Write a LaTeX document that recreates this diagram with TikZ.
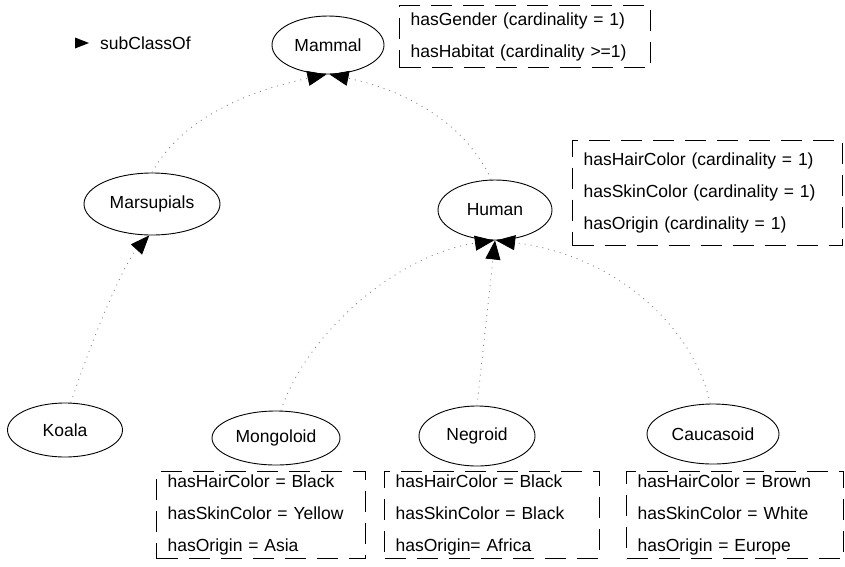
\documentclass[tikz,border=0pt]{standalone}
\usepackage{fontspec}
\setmainfont{Liberation Sans}
\usetikzlibrary{arrows.meta,shapes.geometric}
\tikzset{
  cls/.style={draw, ellipse, line width=0.9pt, inner sep=0pt},
  propbox/.style={draw, dash pattern=on 21pt off 11pt, line width=1.2pt, anchor=north west,
    inner xsep=11pt, inner ysep=0pt, align=left},
  sub/.style={draw=black!50, line width=0.8pt, dash pattern=on 1pt off 5pt,
    -{Triangle[length=19pt,width=15pt,color=black]}},
}
\begin{document}
\begin{tikzpicture}[x=1pt,y=-1pt,font=\fontsize{17.5}{32}\selectfont]
\useasboundingbox (0,0) rectangle (845,566);
% legend
\fill (75,37.5) -- (89,43) -- (75,48.5) -- cycle;
\node[anchor=west, inner sep=0pt] (legend) at (100,43) {subClassOf};
% classes
\node[cls, minimum width=112pt, minimum height=58pt] (mammal) at (328,45) {Mammal};
\node[cls, minimum width=136pt, minimum height=62pt] (marsupials) at (152,204) {Marsupials};
\node[cls, minimum width=114pt, minimum height=60pt] (human) at (495,210) {Human};
\node[cls, minimum width=115pt, minimum height=54pt] (koala) at (65,430) {Koala};
\node[cls, minimum width=128pt, minimum height=54pt] (mongoloid) at (276,438) {Mongoloid};
\node[cls, minimum width=116pt, minimum height=60pt] (negroid) at (477,436) {Negroid};
\node[cls, minimum width=132pt, minimum height=60pt] (caucasoid) at (713,434) {Caucasoid};
% property boxes
\node[propbox, minimum width=251pt, minimum height=62pt, text width=229pt] (mbox) at (399,5)
  {hasGender (cardinality = 1)\\hasHabitat (cardinality >=1)};
\node[propbox, minimum width=270pt, minimum height=105pt, text width=248pt] (hbox) at (572,140)
  {hasHairColor (cardinality = 1)\\hasSkinColor (cardinality = 1)\\hasOrigin (cardinality = 1)};
\node[propbox, minimum width=209pt, minimum height=87pt, text width=187pt] (mobox) at (156,471)
  {hasHairColor = Black\\hasSkinColor = Yellow\\hasOrigin = Asia};
\node[propbox, minimum width=215pt, minimum height=87pt, text width=193pt] (nbox) at (384,471)
  {hasHairColor = Black\\hasSkinColor = Black\\hasOrigin= Africa};
\node[propbox, minimum width=217pt, minimum height=87pt, text width=195pt] (cbox) at (626,471)
  {hasHairColor = Brown\\hasSkinColor = White\\hasOrigin = Europe};
% subClassOf connectors
\draw[sub] (marsupials.north) .. controls (185,112) and (262,88) .. (mammal.-93);
\draw[sub] (human.97) .. controls (462,116) and (395,88) .. (mammal.-87);
\draw[sub] (koala.78) .. controls (95,330) and (125,262) .. (marsupials.-95);
\draw[sub] (mongoloid.80) .. controls (308,330) and (400,254) .. (human.-92);
\draw[sub] (negroid.north) -- (human.-90);
\draw[sub] (caucasoid.95) .. controls (692,322) and (610,254) .. (human.-88);
\end{tikzpicture}
\end{document}
